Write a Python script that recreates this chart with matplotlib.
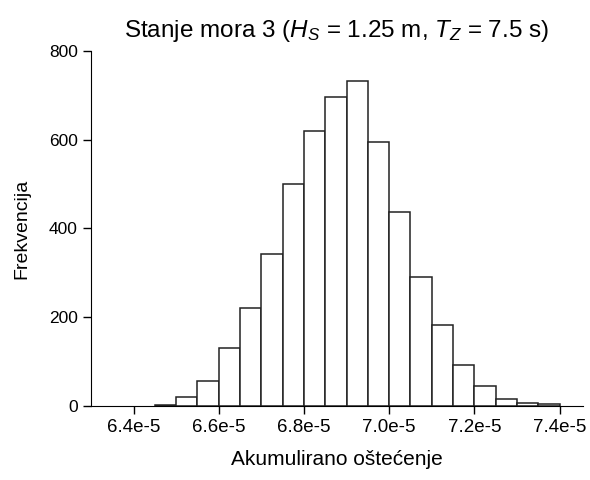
import numpy as np
import matplotlib.pyplot as plt

plt.rcParams['font.family'] = ['Liberation Sans', 'DejaVu Sans']
plt.rcParams['mathtext.fontset'] = 'custom'
plt.rcParams['mathtext.rm'] = 'Liberation Sans'
plt.rcParams['mathtext.it'] = 'Liberation Sans:italic'

# lijevi rubovi razreda (sirina 0.05e-5) i frekvencije
bin_left = np.arange(6.45, 7.36, 0.05) * 1e-5
bin_width = 0.05e-5
counts = [3, 20, 56, 130, 220, 342, 500, 620, 697, 732,
          594, 437, 290, 183, 92, 46, 16, 7, 4]

xtick_vals = [6.4e-5, 6.6e-5, 6.8e-5, 7.0e-5, 7.2e-5, 7.4e-5]
xtick_labels = ['6.4e-5', '6.6e-5', '6.8e-5', '7.0e-5', '7.2e-5', '7.4e-5']
ytick_vals = [0, 200, 400, 600, 800]

fig = plt.figure(figsize=(5.9, 4.8), dpi=100)
ax = fig.add_axes([0.1542, 0.1542, 0.834, 0.74])

ax.bar(bin_left, counts, width=bin_width, align='edge',
       color='white', edgecolor='#222222', linewidth=1.1)

ax.set_xlim(6.3e-5, 7.455e-5)
ax.set_ylim(0, 800)
ax.set_xticks(xtick_vals)
ax.set_xticklabels(xtick_labels, fontsize=13.5)
ax.set_yticks(ytick_vals)
ax.tick_params(axis='y', labelsize=12.5)
ax.tick_params(direction='out', length=6, width=1)

ax.spines['top'].set_visible(False)
ax.spines['right'].set_visible(False)

ax.set_xlabel('Akumulirano oštećenje', fontsize=15, labelpad=10)
ax.set_ylabel('Frekvencija', fontsize=14, labelpad=13)
ax.set_title(r'Stanje mora 3 ($H_S$ = 1.25 m, $T_Z$ = 7.5 s)', fontsize=17.5, pad=10)

plt.savefig('out.png', dpi=100)
